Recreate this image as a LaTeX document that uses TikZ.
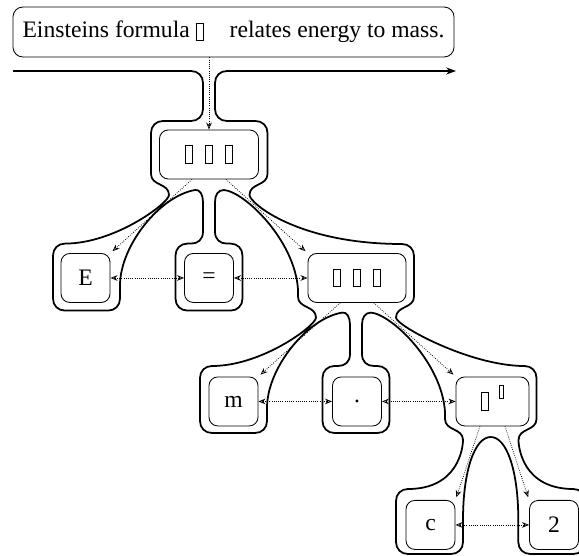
\documentclass[tikz,border=0pt]{standalone}
\usepackage{fontspec}
\setmainfont{Liberation Serif}
\usetikzlibrary{arrows.meta,positioning,calc}

% empty glyph boxes
\newcommand{\nog}{\raisebox{-1.5pt}{\setlength{\fboxsep}{0pt}\setlength{\fboxrule}{0.5pt}\fbox{\rule{0pt}{11.8pt}\hspace{4.7pt}}}}
\newcommand{\nogsup}{\raisebox{7.1pt}{\setlength{\fboxsep}{0pt}\setlength{\fboxrule}{0.5pt}\fbox{\rule{0pt}{8.2pt}\hspace{2.6pt}}}}

\begin{document}
\begin{tikzpicture}[x=0.025cm,y=-0.025cm,node distance=1.84cm,
    every node/.style={font=\fontsize{16.8}{20}\selectfont},
    >={Stealth[open,length=5pt,width=4pt]},
    tnode/.style={draw,line width=0.6pt,rounded corners=0.22cm,minimum width=1.225cm,minimum height=1.225cm,inner sep=0pt},
    link/.style={densely dotted,line width=0.55pt},
    thread/.style={line width=1.25pt,line join=round}]
  \useasboundingbox (0,0) rectangle (579,556);
  \node[draw,line width=0.6pt,rounded corners=0.25cm,minimum width=11.025cm,minimum height=1.25cm] (sentence) at (233.5,32) {Einsteins formula \nog\hspace{1.1em}relates energy to mass.};
  % expression tree
  \node[tnode,minimum width=2.475cm] (root) at (209,154.5) {\nog\hspace{8.5pt}\nog\hspace{8.5pt}\nog};
  \node[tnode,below=of root] (eq) {=};
  \node[tnode,left=of eq] (lhs) {E};
  \node[tnode,right=of eq,minimum width=2.45cm] (rhs) {\nog\hspace{8.5pt}\nog\hspace{8.5pt}\nog};
  \node[tnode,below=of rhs] (dot) {.};
  \node[tnode,left=of dot] (m) {m};
  \node[tnode,right=of dot,minimum width=1.825cm] (pow) {\nog\hspace{7pt}\smash{\nogsup}};
  \node[tnode,below left=1.84cm and 0.925cm of pow.south] (c) {c};
  \node[tnode,right=of c] (two) {2};
  % child and sibling pointers
  \draw[link,->] (root.north |- sentence.south) -- (root.north);
  \draw[link,->,shorten >=2pt] ($(root.south west)!0.33!(root.south east)$) -- (lhs.north east);
  \draw[link,->,shorten >=2pt] ($(root.south west)!0.67!(root.south east)$) -- (rhs.north west);
  \draw[link,->,shorten >=2pt] ($(rhs.south west)!0.33!(rhs.south east)$) -- (m.north east);
  \draw[link,->,shorten >=2pt] ($(rhs.south west)!0.67!(rhs.south east)$) -- (pow.north west);
  \draw[link,->,shorten >=2pt] ($(pow.south west)!0.33!(pow.south east)$) -- (c.north east);
  \draw[link,->,shorten >=2pt] ($(pow.south west)!0.67!(pow.south east)$) -- (two.north west);
  \draw[link,<->] (lhs) -- (eq);
  \draw[link,<->] (eq) -- (rhs);
  \draw[link,<->] (m) -- (dot);
  \draw[link,<->] (dot) -- (pow);
  \draw[link,<->] (c) -- (two);
  % the thread around the tree
  \draw[thread,-{Stealth[length=7pt,width=5pt]}]
    (13,71) -- (191,71) .. controls (198,71) and (203,76) .. (203,83)
    -- (203,109) .. controls (203,116) and (198,121) .. (191,121)
    -- (163,121) .. controls (156,121) and (151,126) .. (151,133)
    -- (151,174) .. controls (151,186) and (169,183) .. (169,195)
    .. controls (169,203) and (115,243.6) .. (65,243.6)
    .. controls (58,243.6) and (53,248.6) .. (53,255.6)
    -- (53,298.6) .. controls (53,305.6) and (58,310.6) .. (65,310.6)
    -- (108,310.6) .. controls (115,310.6) and (120,305.6) .. (120,298.6)
    -- (120,285.6) .. controls (120,245.6) and (160,196) .. (195,190)
    .. controls (200,189) and (203,195) .. (203,202)
    -- (203,231.6) .. controls (203,239.6) and (198,243.6) .. (191,243.6)
    -- (187.5,243.6) .. controls (180.5,243.6) and (175.5,248.6) .. (175.5,255.6)
    -- (175.5,298.6) .. controls (175.5,305.6) and (180.5,310.6) .. (187.5,310.6)
    -- (230.5,310.6) .. controls (237.5,310.6) and (242.5,305.6) .. (242.5,298.6)
    -- (242.5,255.6) .. controls (242.5,248.6) and (237.5,243.6) .. (230.5,243.6)
    -- (227,243.6) .. controls (220,243.6) and (215,239.6) .. (215,231.6)
    -- (215,202) .. controls (215,195) and (218,190) .. (224,190)
    .. controls (245,192) and (295,240.6) .. (298,289.6)
    -- (298,296.6) .. controls (298,308.6) and (316,305.6) .. (316,317.6)
    .. controls (316,325.6) and (262,366) .. (212,366)
    .. controls (205,366) and (200,371) .. (200,378)
    -- (200,421) .. controls (200,428) and (205,433) .. (212,433)
    -- (255,433) .. controls (262,433) and (267,428) .. (267,421)
    -- (267,408) .. controls (267,368) and (307,318.6) .. (342,312.6)
    .. controls (347,311.6) and (350,317.6) .. (350,324.6)
    -- (350,354) .. controls (350,362) and (345,366) .. (338,366)
    -- (334.5,366) .. controls (327.5,366) and (322.5,371) .. (322.5,378)
    -- (322.5,421) .. controls (322.5,428) and (327.5,433) .. (334.5,433)
    -- (377.5,433) .. controls (384.5,433) and (389.5,428) .. (389.5,421)
    -- (389.5,378) .. controls (389.5,371) and (384.5,366) .. (377.5,366)
    -- (374,366) .. controls (367,366) and (362,362) .. (362,354)
    -- (362,324.6) .. controls (362,317.6) and (365,312.6) .. (371,312.6)
    .. controls (392,314.6) and (442,363) .. (445,412)
    -- (445,419) .. controls (445,431) and (463,428) .. (463,440)
    .. controls (463,448) and (458,489) .. (408,489)
    .. controls (401,489) and (396,494) .. (396,501)
    -- (396,542) .. controls (396,549) and (401,554) .. (408,554)
    -- (451,554) .. controls (458,554) and (463,549) .. (463,542)
    -- (463,520) .. controls (463,470) and (475,437) .. (490.7,437)
    .. controls (506.5,437) and (518.3,470) .. (518.3,520)
    -- (518.3,542) .. controls (518.3,549) and (523.3,554) .. (530.3,554)
    -- (573.3,554) .. controls (580.3,554) and (585.3,549) .. (585.3,542)
    -- (585.3,501) .. controls (585.3,494) and (580.3,489) .. (573.3,489)
    .. controls (523.3,489) and (518.5,448) .. (518.5,440)
    .. controls (518.5,428) and (536.5,431) .. (536.5,419)
    -- (536.5,378) .. controls (536.5,371) and (531.5,366) .. (524.5,366)
    .. controls (470,366) and (396,325.6) .. (396,317.6)
    .. controls (396,305.6) and (414,308.6) .. (414,296.6)
    -- (414,256) .. controls (414,249) and (409,244) .. (402,244)
    .. controls (298,244) and (249.5,203) .. (249.5,195)
    .. controls (249.5,183) and (267.5,186) .. (267.5,174)
    -- (267.5,133) .. controls (267.5,126) and (262.5,121) .. (255.5,121)
    -- (227,121) .. controls (220,121) and (215,116) .. (215,109)
    -- (215,83) .. controls (215,76) and (220,71) .. (227,71)
    -- (456,71);
\end{tikzpicture}
\end{document}
